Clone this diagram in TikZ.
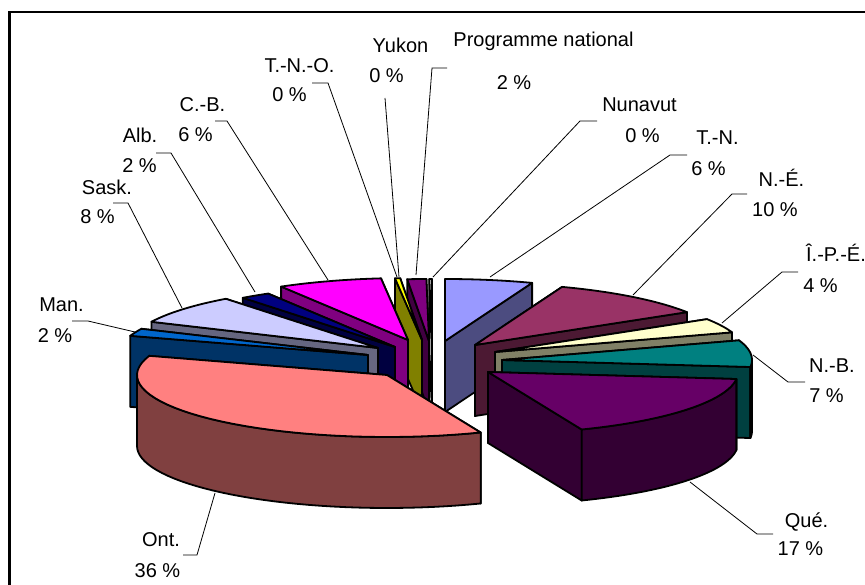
\documentclass[tikz,border=0pt]{standalone}
\usepackage{fontspec}
\setmainfont{Liberation Sans}
\usetikzlibrary{calc}

\newcommand{\pieRx}{250}
\newcommand{\pieRy}{62}
\newcommand{\pieH}{71}

\definecolor{nuTop}{HTML}{FFFFFF}
\definecolor{nuSide}{HTML}{FFFFFF}
\definecolor{pnTop}{HTML}{800080}
\definecolor{pnSide}{HTML}{400040}
\definecolor{tnoTop}{HTML}{FFFF00}
\definecolor{tnoSide}{HTML}{808000}
\definecolor{tnTop}{HTML}{9999FF}
\definecolor{tnSide}{HTML}{4C4C80}
\definecolor{cbTop}{HTML}{FF00FF}
\definecolor{cbSide}{HTML}{800080}
\definecolor{neTop}{HTML}{993366}
\definecolor{neSide}{HTML}{4C1933}
\definecolor{abTop}{HTML}{000080}
\definecolor{abSide}{HTML}{000040}
\definecolor{peTop}{HTML}{FFFFCC}
\definecolor{peSide}{HTML}{808066}
\definecolor{skTop}{HTML}{CCCCFF}
\definecolor{skSide}{HTML}{666680}
\definecolor{nbTop}{HTML}{008080}
\definecolor{nbSide}{HTML}{004040}
\definecolor{mbTop}{HTML}{0066CC}
\definecolor{mbSide}{HTML}{003366}
\definecolor{qcTop}{HTML}{660066}
\definecolor{qcSide}{HTML}{330033}
\definecolor{onTop}{HTML}{FF8080}
\definecolor{onSide}{HTML}{804040}

\begin{document}
\begin{tikzpicture}[x=1pt, y=-1pt, samples=40]
		\tikzstyle{border_line} = [draw=black, line width=2.5pt]
		\tikzstyle{slice_face} = [draw=black, line width=1.8pt, line join=round]
		\tikzstyle{leader_line} = [draw=black, line width=0.8pt]
		\tikzstyle{slice_text} = [inner sep=0, anchor=base, font=\fontsize{20}{24}\selectfont]

		\path[use as bounding box, fill=white] (0,0) rectangle (865,585);
		\draw[border_line] (9.5,12) rectangle (880,600);

		% Slices, back to front: tip x/y, start, end, hidden face, visible face, colours
		\foreach \tx/\ty/\a/\b/\p/\q/\ctop/\cside in {
				432/341/359.4/360/360/359.4/nuTop/nuSide,
				429/341/355/359.4/359.4/355/pnTop/pnSide,
				422/340/353.8/355/355/353.8/tnoTop/tnoSide,
				445/341/0/20.4/0/20.4/tnTop/tnSide,
				408/340/329.5/353.8/353.8/329.5/cbTop/cbSide,
				475/345/20.4/58/20.4/58/neTop/neSide,
				395/347/322.5/329.5/329.5/322.5/abTop/abSide,
				495/352/58/71.5/58/71.5/peTop/peSide,
				378/348/295/322.5/322.5/295/skTop/skSide,
				502/360/71.5/96.5/71.5/96.5/nbTop/nbSide,
				368/355/288/295/295/288/mbTop/mbSide,
				488/372/96.5/158/96.5/158/qcTop/qcSide,
				387/375/158/288/158/288/onTop/onSide} {
				\foreach \f in {\p,\q}
					\filldraw[slice_face, fill=\cside] (\tx,\ty) -- ({\tx+\pieRx*sin(\f)},{\ty-\pieRy*cos(\f)}) -- ++(0,\pieH) -- (\tx,\ty+\pieH) -- cycle;
				\pgfmathsetmacro\lo{max(\a,90)}
				\pgfmathsetmacro\hi{min(\b,270)}
				\ifdim\hi pt>\lo pt
					\filldraw[slice_face, fill=\cside] plot[domain=\lo:\hi] ({\tx+\pieRx*sin(\x)},{\ty-\pieRy*cos(\x)}) -- plot[domain=\hi:\lo] ({\tx+\pieRx*sin(\x)},{\ty+\pieH-\pieRy*cos(\x)}) -- cycle;
				\fi
				\filldraw[slice_face, fill=\ctop] (\tx,\ty) -- plot[domain=\a:\b] ({\tx+\pieRx*sin(\x)},{\ty-\pieRy*cos(\x)}) -- cycle;
			};

		% Leader lines
		\foreach \sx/\sy/\ex/\ey/\fx/\fy [count=\k] in {
				416/275/432/68/447/68, 399/277/385/98/385/98, 397/277/328/83/312/83,
				328/280/227/121/215/121, 255/292/171/153/156/153, 182/308/128/203/113/203,
				135/332/88/321/72/321, 215/493/197/555/183/555, 690/482/757/534/773/534,
				753/355/788/382/805/382, 722/323/782/272/798/272, 633/295/732/194/747/194,
				490/277/670/155/687/155, 433/277/580/121/597/121} {
				\coordinate (slice_pt\k) at (\sx,\sy);
				\coordinate (elbow\k) at (\ex,\ey);
				\coordinate (stub\k) at (\fx,\fy);
				\draw[leader_line] (slice_pt\k) -- (elbow\k) -- (stub\k);
			};

		% Labels
		\foreach \nm/\nx/\ny/\pc/\px/\py [count=\k] in {
				Programme national/543.5/47/2 \%/514/89.5,
				Yukon/400.5/53/0 \%/386.5/83,
				T.-N.-O./299.5/73/0 \%/289.5/102,
				C.-B./202.5/112/6 \%/195.5/142,
				Alb./140/143/2 \%/139.5/173,
				Sask./107/195/8 \%/97.5/224,
				Man./61.5/312/2 \%/55/342,
				Ont./161/546/36 \%/157.5/577,
				Qué./806.5/527/17 \%/800.5/555,
				N.-B./832/372/7 \%/826.5/402,
				Î.-P.-É./836/262/4 \%/820.5/293,
				N.-É./781.5/187/10 \%/775/217,
				T.-N./717.5/145/6 \%/708.5/176,
				Nunavut/639.5/112/0 \%/642.5/143} {
				\node[slice_text] (cat\k) at (\nx,\ny) {\nm};
				\node[slice_text] (pct\k) at (\px,\py) {\pc};
			};

	\end{tikzpicture}
\end{document}
